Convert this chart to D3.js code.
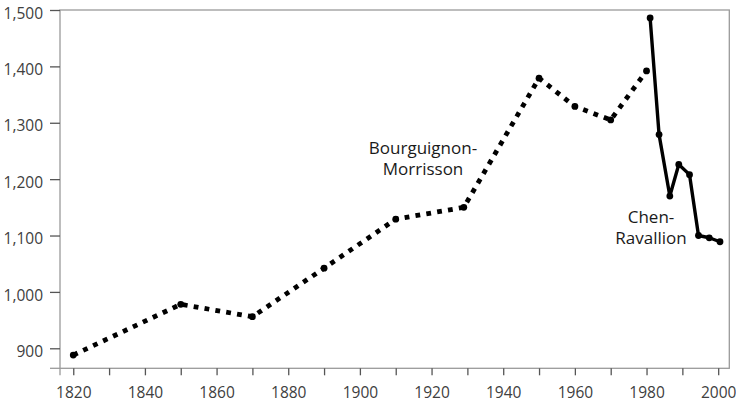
<!DOCTYPE html>
<html>
<head>
<meta charset="utf-8">
<script src="https://cdn.jsdelivr.net/npm/d3@7"></script>
<style>
  html, body { margin: 0; padding: 0; background: #fff; }
  svg { display: block; }
  text { font-family: "Open Sans", "Noto Sans", sans-serif; }
</style>
</head>
<body>
<svg id="chart" width="736" height="404"></svg>
<script>
// Bourguignon-Morrisson series (dotted)
const bmYears  = [1820, 1850, 1870, 1890, 1910, 1929, 1950, 1960, 1970, 1980];
const bmValues = [888, 978, 956, 1042, 1129, 1150, 1379, 1329, 1305, 1392];

// Chen-Ravallion series (solid)
const crYears  = [1981, 1983.5, 1986.5, 1989, 1992, 1994.5, 1997.5, 2000.5];
const crValues = [1486, 1279, 1170, 1226, 1208, 1100, 1096, 1089];

// Axis ticks
const yTicks = [900, 1000, 1100, 1200, 1300, 1400, 1500];
const xTicks = [1820, 1830, 1840, 1850, 1860, 1870, 1880, 1890, 1900, 1910,
                1920, 1930, 1940, 1950, 1960, 1970, 1980, 1990, 2000];
const xLabelTicks = [1820, 1840, 1860, 1880, 1900, 1920, 1940, 1960, 1980, 2000];

// Series labels
const bmLabel = ["Bourguignon-", "Morrisson"];
const crLabel = ["Chen-", "Ravallion"];

const W = 736, H = 404;
const margin = { top: 10, right: 6.7, bottom: 35.7, left: 60 };
const svg = d3.select("#chart");

const x = d3.scaleLinear().domain([1816.3, 2003.1]).range([margin.left, W - margin.right]);
const y = d3.scaleLinear().domain([864.5, 1500]).range([H - margin.bottom, margin.top]);

const axisColor = "#9a9a9a";
const labelColor = "#404040";

// Frame
const x0 = x.range()[0], x1 = x.range()[1];
const y0 = y.range()[0], y1 = y.range()[1];
svg.append("rect")
  .attr("x", x0).attr("y", y1)
  .attr("width", x1 - x0).attr("height", y0 - y1)
  .attr("fill", "none").attr("stroke", axisColor).attr("stroke-width", 1.3);
// axis line extensions at the corner
svg.append("line").attr("x1", x0 - 10).attr("x2", x0).attr("y1", y0).attr("y2", y0)
  .attr("stroke", axisColor).attr("stroke-width", 1.3);
svg.append("line").attr("x1", x0).attr("x2", x0).attr("y1", y0).attr("y2", y0 + 7)
  .attr("stroke", axisColor).attr("stroke-width", 1.3);

// Y axis
const yAxis = svg.append("g")
  .attr("transform", `translate(${x0},0)`)
  .call(d3.axisLeft(y).tickValues(yTicks).tickSize(10).tickPadding(7).tickFormat(d3.format(",")));
yAxis.select(".domain").remove();
yAxis.selectAll(".tick line").attr("stroke", "#555").attr("stroke-width", 1.3);
yAxis.selectAll(".tick text")
  .attr("fill", labelColor).attr("font-size", "15.5px")
  .attr("font-family", "'Open Sans', sans-serif")
  .attr("dy", "0.53em");

// X axis
const xAxis = svg.append("g")
  .attr("transform", `translate(0,${y0})`)
  .call(d3.axisBottom(x).tickValues(xTicks).tickSize(7).tickPadding(11.4)
    .tickFormat(d => xLabelTicks.includes(d) ? String(d) : ""));
xAxis.select(".domain").remove();
xAxis.selectAll(".tick line").attr("stroke", "#555").attr("stroke-width", 1.3);
xAxis.selectAll(".tick text")
  .attr("fill", labelColor).attr("font-size", "15.5px")
  .attr("font-family", "'Open Sans', sans-serif");

// Lines
const bmData = bmYears.map((yr, i) => ({ x: yr, y: bmValues[i] }));
const crData = crYears.map((yr, i) => ({ x: yr, y: crValues[i] }));
const line = d3.line().x(d => x(d.x)).y(d => y(d.y));

svg.append("path").datum(bmData)
  .attr("d", line)
  .attr("fill", "none").attr("stroke", "#000")
  .attr("stroke-width", 4.8)
  .attr("stroke-dasharray", "4.8,6.2");

svg.append("path").datum(crData)
  .attr("d", line)
  .attr("fill", "none").attr("stroke", "#000")
  .attr("stroke-width", 3.4)
  .attr("stroke-linejoin", "round");

svg.append("g").selectAll("circle").data(bmData.concat(crData)).join("circle")
  .attr("cx", d => x(d.x)).attr("cy", d => y(d.y)).attr("r", 3.4).attr("fill", "#000");

// Annotations (one text element per line)
function addLabel(lines, cx, baseline, lh) {
  lines.forEach((s, i) => {
    svg.append("text")
      .attr("text-anchor", "middle")
      .attr("font-size", "17px").attr("fill", "#1a1a1a")
      .attr("x", cx).attr("y", baseline + i * lh)
      .text(s);
  });
}
addLabel(bmLabel, 423, 154, 21);
addLabel(crLabel, 651, 222.5, 21);
</script>
</body>
</html>
